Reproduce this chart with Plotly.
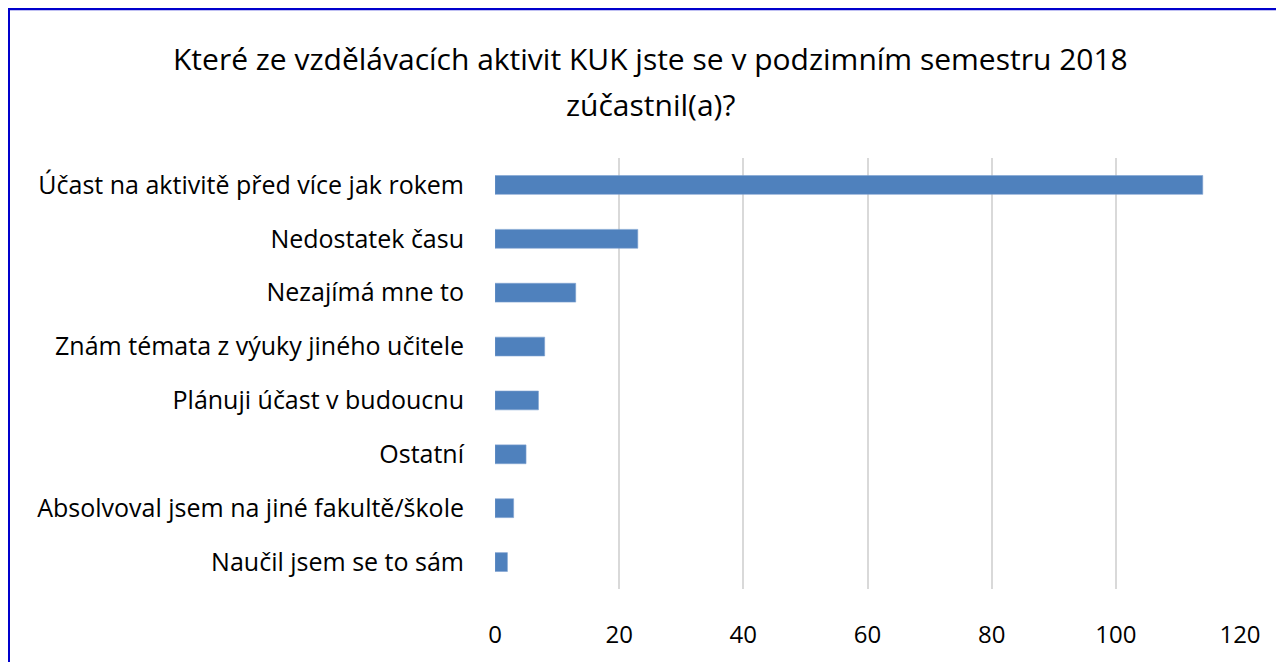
import plotly.graph_objects as go

kategorie = [
    "Účast na aktivitě před více jak rokem",
    "Nedostatek času",
    "Nezajímá mne to",
    "Znám témata z výuky jiného učitele",
    "Plánuji účast v budoucnu",
    "Ostatní",
    "Absolvoval jsem na jiné fakultě/škole",
    "Naučil jsem se to sám",
]
pocty = [114, 23, 13, 8, 7, 5, 3, 2]
x_ticky = [0, 20, 40, 60, 80, 100, 120]

titulek_1 = "Které ze vzdělávacích aktivit KUK jste se v podzimním semestru 2018"
titulek_2 = "zúčastnil(a)?"

barva_sloupce = '#4F81BD'
barva_mrizky = '#D9D9D9'
barva_ramu = '#0000CC'
pismo = 'Open Sans'

# stránka má okraj 8 px, proto posun
POSUN = 8
L, R, T, B = 495 - POSUN, 52, 158 - POSUN, 81
sirka = 1284 - L - R
vyska = 662 - T - B

def px_x(p):
    return (p - POSUN - L) / sirka

def px_y(p):
    return (662 - B - (p - POSUN)) / vyska

fig = go.Figure()

fig.add_trace(go.Bar(
    x=pocty,
    y=kategorie,
    orientation='h',
    marker=dict(color=barva_sloupce, line=dict(color='#7FA3D1', width=0.6)),
    hoverinfo='x+y',
))

fig.update_layout(
    width=1284,
    height=662,
    plot_bgcolor='white',
    paper_bgcolor='white',
    font=dict(family=pismo, color='#000000', size=24),
    margin=dict(l=L, r=R, t=T, b=B),
    bargap=0.65,
    showlegend=False,
    xaxis=dict(
        range=[0, 120],
        tickvals=x_ticky,
        showgrid=True,
        gridcolor=barva_mrizky,
        gridwidth=2,
        zeroline=False,
        showline=False,
        ticks='',
        ticklabelstandoff=29,
        tickfont=dict(size=24, family=pismo, color='#000000'),
        fixedrange=True,
    ),
    yaxis=dict(
        autorange='reversed',
        showgrid=False,
        zeroline=False,
        showline=False,
        ticks='',
        ticklabelstandoff=30,
        tickfont=dict(size=25, family=pismo, color='#000000'),
        fixedrange=True,
    ),
    annotations=[
        dict(text=titulek_1, x=px_x(650), y=px_y(59), xref='paper', yref='paper',
             xanchor='center', yanchor='middle', showarrow=False,
             font=dict(size=30, family=pismo, color='#000000')),
        dict(text=titulek_2, x=px_x(650), y=px_y(104), xref='paper', yref='paper',
             xanchor='center', yanchor='middle', showarrow=False,
             font=dict(size=30, family=pismo, color='#000000')),
    ],
    shapes=[
        dict(type='line', xref='paper', yref='paper', x0=px_x(1), x1=px_x(1300),
             y0=px_y(9), y1=px_y(9), line=dict(color=barva_ramu, width=2.5)),
        dict(type='line', xref='paper', yref='paper', x0=px_x(8.5), x1=px_x(8.5),
             y0=px_y(7.8), y1=px_y(680), line=dict(color=barva_ramu, width=3)),
    ],
)

fig.write_html("out.html")
